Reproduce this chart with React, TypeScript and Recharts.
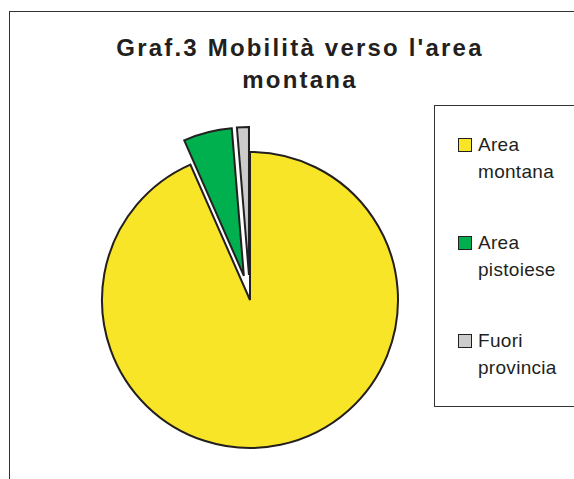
import { PieChart, Pie, Cell } from "recharts";

const labels = ["Area montana", "Area pistoiese", "Fuori provincia"];
const values = [93.4, 5.3, 1.3];
const colors = ["#F8E528", "#00B04F", "#CCCCCC"];
const exploded = [false, true, true];

const data = labels.map((name, i) => ({ name, value: values[i] }));

if (typeof document !== "undefined") {
  document.body.style.margin = "0";
  document.body.style.overflow = "hidden";
}

const CX = 250;
const CY = 300;
const R = 148;
const EXPLODE = 25;
const STROKE = "#231F20";

// offset for each slice along its mid angle (clockwise from 12 o'clock)
function sliceOffset(i: number) {
  const total = values.reduce((s, v) => s + v, 0);
  const before = values.slice(0, i).reduce((s, v) => s + v, 0);
  const mid = ((90 - (360 * (before + values[i] / 2)) / total) * Math.PI) / 180;
  const d = exploded[i] ? EXPLODE : 0;
  return { dx: d * Math.cos(mid), dy: -d * Math.sin(mid) };
}

export default function App() {
  return (
    <div
      style={{
        position: "relative",
        width: 574,
        height: 479,
        overflow: "hidden",
        background: "#fff",
        fontFamily: "'Liberation Sans', Arial, sans-serif",
      }}
    >
      <div
        style={{
          position: "absolute",
          left: 9,
          top: 11,
          width: 600,
          height: 500,
          borderLeft: "1px solid #333",
          borderTop: "1px solid #333",
        }}
      />
      <div
        style={{
          position: "absolute",
          left: 50,
          top: 32,
          width: 500,
          textAlign: "center",
          fontWeight: "bold",
          fontSize: 24,
          lineHeight: "32px",
          letterSpacing: 2.2,
          color: "#231F20",
        }}
      >
        Graf.3 Mobilità verso l'area
        <br />
        montana
      </div>
      <div style={{ position: "absolute", left: 0, top: 0 }}>
        <PieChart width={574} height={479} margin={{ top: 0, right: 0, bottom: 0, left: 0 }}>
          {labels.map((_, k) => {
            const { dx, dy } = sliceOffset(k);
            return (
              <Pie
                key={k}
                data={data}
                dataKey="value"
                cx={CX + dx}
                cy={CY + dy}
                outerRadius={R}
                startAngle={90}
                endAngle={-270}
                isAnimationActive={false}
              >
                {data.map((_, i) => (
                  <Cell
                    key={i}
                    fill={i === k ? colors[i] : "none"}
                    stroke={i === k ? STROKE : "none"}
                    strokeWidth={2}
                  />
                ))}
              </Pie>
            );
          })}
        </PieChart>
      </div>
      <div
        style={{
          position: "absolute",
          left: 434,
          top: 105,
          width: 160,
          height: 302,
          border: "1px solid #333",
          boxSizing: "border-box",
        }}
      >
        {labels.map((name, i) => {
          const parts = name.split(" ");
          return (
            <div
              key={name}
              style={{
                position: "absolute",
                left: 23,
                top: 25 + i * 98,
                fontSize: 19,
                lineHeight: "27px",
                letterSpacing: 0.3,
                color: "#231F20",
              }}
            >
              <div style={{ display: "flex", alignItems: "center" }}>
                <span
                  style={{
                    display: "inline-block",
                    width: 12,
                    height: 12,
                    background: colors[i],
                    border: "1px solid #231F20",
                    marginRight: 6,
                  }}
                />
                {parts[0]}
              </div>
              <div style={{ paddingLeft: 20 }}>{parts.slice(1).join(" ")}</div>
            </div>
          );
        })}
      </div>
    </div>
  );
}
